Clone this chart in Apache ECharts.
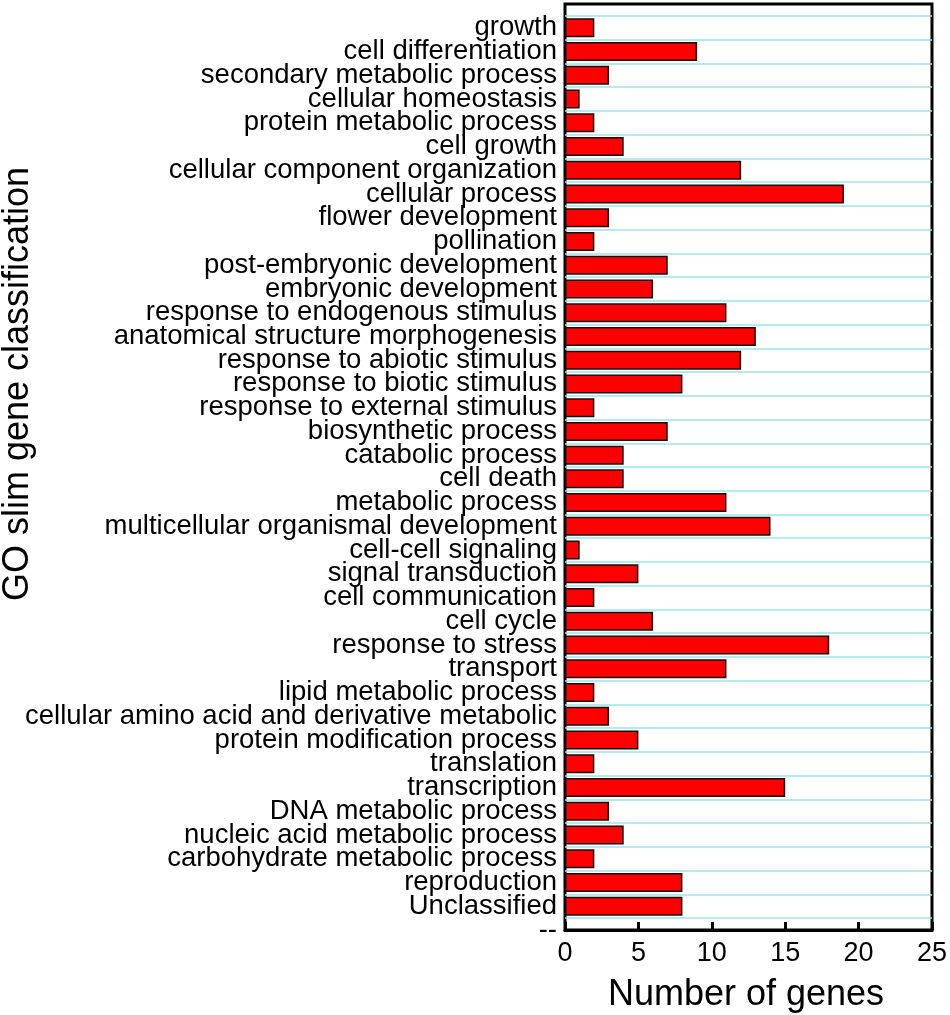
<!DOCTYPE html>
<html>
<head>
<meta charset="utf-8">
<script src="https://cdn.jsdelivr.net/npm/echarts@6/dist/echarts.min.js"></script>
<style>
  html, body { margin: 0; padding: 0; background: #fff; }
  #main { width: 950px; height: 1015px; }
</style>
</head>
<body>
<div id="main"></div>
<script>
// categories listed top to bottom as in the figure
var categories = [
	'growth', 'cell differentiation', 'secondary metabolic process', 'cellular homeostasis',
	'protein metabolic process', 'cell growth', 'cellular component organization', 'cellular process',
	'flower development', 'pollination', 'post-embryonic development', 'embryonic development',
	'response to endogenous stimulus', 'anatomical structure morphogenesis', 'response to abiotic stimulus',
	'response to biotic stimulus', 'response to external stimulus', 'biosynthetic process',
	'catabolic process', 'cell death', 'metabolic process', 'multicellular organismal development',
	'cell-cell signaling', 'signal transduction', 'cell communication', 'cell cycle',
	'response to stress', 'transport', 'lipid metabolic process',
	'cellular amino acid and derivative metabolic', 'protein modification process', 'translation',
	'transcription', 'DNA metabolic process', 'nucleic acid metabolic process',
	'carbohydrate metabolic process', 'reproduction', 'Unclassified'
];
var geneCounts = [
	2, 9, 3, 1, 2, 4, 12, 19, 3, 2, 7, 6, 11, 13, 12, 8, 2, 7, 4, 4, 11, 14,
	1, 5, 2, 6, 18, 11, 2, 3, 5, 2, 15, 3, 4, 2, 8, 8
];
var xTicks = [0, 5, 10, 15, 20, 25];

// axis runs bottom->top: "--" on the x axis, blank slot at the top border
var yCats = ['--'].concat(categories.slice().reverse()).concat(['']);
var yVals = [null].concat(geneCounts.slice().reverse()).concat([null]);

var myChart = echarts.init(document.getElementById('main'));
var font = 'Liberation Sans, Arial, sans-serif';
var option = {
	backgroundColor: '#ffffff',
	animation: false,
	grid: {
		left: 565, right: 17, top: 4, bottom: 85,
		show: true, borderColor: '#000', borderWidth: 3, backgroundColor: 'transparent'
	},
	xAxis: {
		type: 'value',
		min: xTicks[0],
		max: xTicks[xTicks.length - 1],
		interval: 5,
		axisLine: { show: true, lineStyle: { color: '#000', width: 3 } },
		axisTick: { show: true, inside: true, length: 8, lineStyle: { color: '#000', width: 3 } },
		axisLabel: { color: '#000', fontSize: 27, fontFamily: font, margin: 10 },
		splitLine: { show: false }
	},
	yAxis: [{
		type: 'category',
		data: yCats,
		boundaryGap: false,
		axisLine: { show: false },
		axisTick: { show: false },
		axisLabel: { color: '#000', fontSize: 27.5, fontFamily: font, margin: 8, interval: 0 },
		splitLine: { show: false }
	}, {
		// only used for the cyan lines between categories
		type: 'value',
		min: 0,
		max: yCats.length - 1,
		interval: 1,
		position: 'left',
		axisLine: { show: false },
		axisTick: { show: false },
		axisLabel: { show: false },
		splitLine: { show: false },
		minorTick: { show: false, splitNumber: 2 },
		minorSplitLine: { show: true, lineStyle: { color: '#9fe5e8', width: 1.5 } }
	}],
	series: [{
		type: 'bar',
		yAxisIndex: 0,
		data: yVals,
		barWidth: 19,
		itemStyle: { color: '#ff0000', borderColor: '#111', borderWidth: 1.5 }
	}],
	graphic: [{
		type: 'text',
		x: 18, y: 384,
		rotation: Math.PI / 2,
		style: {
			text: 'GO slim gene classification',
			fontSize: 36, fontFamily: font, fill: '#000',
			align: 'center', verticalAlign: 'middle'
		}
	}, {
		type: 'text',
		x: 746, y: 995,
		style: {
			text: 'Number of genes',
			fontSize: 36, fontFamily: font, fill: '#000',
			align: 'center', verticalAlign: 'middle'
		}
	}]
};
myChart.setOption(option);
</script>
</body>
</html>
